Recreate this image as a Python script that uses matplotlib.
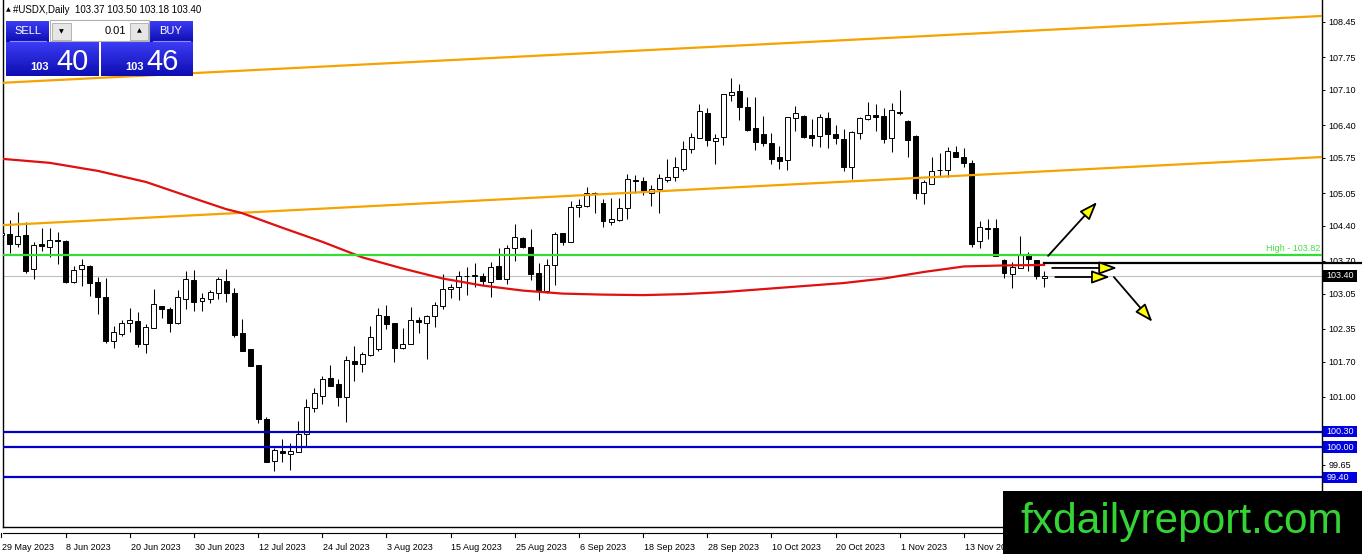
import numpy as np
import matplotlib.pyplot as plt
import matplotlib.transforms as mtransforms
from matplotlib.patches import Rectangle
from matplotlib.colors import LinearSegmentedColormap

plt.rcParams['font.family'] = ['Liberation Sans', 'DejaVu Sans']

# ---- 1. #USDX daily candles, 29 May 2023 onwards ----
opens = [104.22, 104.24, 104.04, 104.22, 103.54, 104.04, 103.98, 104.12, 104.10, 103.28,
         103.54, 103.60, 103.28, 102.98, 102.11, 102.25, 102.47, 102.51, 102.05, 102.37,
         102.80, 102.74, 102.47, 102.94, 103.32, 102.90, 102.94, 103.06, 103.30, 103.06,
         102.27, 101.95, 101.63, 100.56, 99.72, 99.92, 99.86, 99.90, 100.26, 100.78,
         101.01, 101.37, 101.25, 100.99, 101.71, 101.65, 101.83, 101.95, 102.61, 102.47,
         101.97, 102.05, 102.53, 102.47, 102.61, 102.80, 103.14, 103.18, 103.40, 103.40,
         103.40, 103.28, 103.60, 103.34, 103.96, 104.16, 103.98, 103.46, 103.10, 103.62,
         104.25, 104.08, 104.77, 104.79, 105.05, 104.85, 104.47, 104.51, 104.75, 105.31,
         105.29, 105.05, 105.13, 105.31, 105.37, 105.53, 105.92, 106.14, 106.64, 106.08,
         106.16, 107.00, 107.08, 106.76, 106.34, 106.22, 106.04, 105.77, 105.71, 106.54,
         106.58, 106.20, 106.18, 106.54, 106.22, 106.12, 105.57, 106.24, 106.52, 106.60,
         106.58, 106.14, 106.66, 106.48, 106.18, 105.05, 105.23, 105.51, 105.51, 105.87,
         105.77, 105.65, 104.10, 104.35, 104.35, 103.72, 103.44, 103.56, 103.84, 103.72,
         103.37]
highs = [104.35, 104.51, 104.67, 104.47, 104.08, 104.35, 104.35, 104.28, 104.12, 103.60,
         103.74, 103.62, 103.38, 103.36, 102.41, 102.53, 102.76, 102.68, 102.45, 103.14,
         102.80, 102.78, 103.12, 103.50, 103.52, 103.06, 103.12, 103.38, 103.54, 103.16,
         102.55, 101.95, 101.63, 100.60, 99.98, 100.16, 100.08, 100.52, 100.95, 101.17,
         101.41, 101.63, 101.35, 101.81, 102.01, 101.89, 102.41, 102.76, 102.82, 102.47,
         102.37, 102.78, 102.59, 102.63, 102.88, 103.44, 103.24, 103.50, 103.58, 103.66,
         103.46, 103.68, 103.96, 104.02, 104.43, 104.18, 104.33, 103.66, 103.74, 104.28,
         104.25, 104.89, 104.93, 105.17, 105.07, 104.93, 104.95, 104.95, 105.43, 105.41,
         105.37, 105.21, 105.43, 105.73, 105.77, 106.08, 106.24, 106.82, 106.74, 106.22,
         107.02, 107.34, 107.22, 106.96, 106.96, 106.58, 106.24, 105.98, 106.56, 106.78,
         106.60, 106.52, 106.62, 106.66, 106.40, 106.32, 106.28, 106.56, 106.86, 106.82,
         106.74, 106.84, 107.10, 106.50, 106.20, 105.31, 105.77, 105.85, 105.96, 105.98,
         105.94, 105.71, 104.49, 104.53, 104.53, 103.74, 103.68, 104.20, 103.88, 103.72,
         103.50]
lows = [104.12, 103.86, 103.98, 103.46, 103.34, 103.90, 103.78, 103.64, 103.26, 103.26,
        103.20, 103.00, 102.64, 102.07, 101.97, 102.21, 102.29, 101.99, 101.87, 102.37,
        102.57, 102.29, 102.45, 102.74, 102.70, 102.70, 102.86, 102.94, 102.88, 102.19,
        101.91, 101.61, 100.48, 99.70, 99.52, 99.70, 99.54, 99.90, 100.02, 100.70,
        100.85, 101.21, 100.82, 100.50, 101.31, 101.49, 101.81, 101.91, 102.35, 101.69,
        101.95, 102.05, 102.27, 101.75, 102.39, 102.74, 102.96, 102.92, 103.02, 103.18,
        103.22, 102.98, 103.34, 103.24, 103.70, 103.96, 103.32, 102.92, 103.06, 103.22,
        104.02, 104.08, 104.57, 104.77, 104.65, 104.37, 104.41, 104.49, 104.53, 105.05,
        105.01, 104.79, 104.65, 105.27, 105.29, 105.49, 105.85, 106.14, 105.98, 105.63,
        106.00, 106.88, 106.50, 106.28, 105.91, 105.98, 105.63, 105.53, 105.51, 106.28,
        106.14, 105.98, 105.96, 105.94, 106.02, 105.49, 105.33, 106.12, 106.50, 106.28,
        106.04, 105.87, 106.60, 105.77, 104.93, 104.83, 105.23, 105.37, 105.37, 105.77,
        105.57, 103.98, 103.96, 104.14, 103.80, 103.36, 103.16, 103.56, 103.50, 103.34,
        103.18]
closes = [104.25, 104.04, 104.20, 103.50, 104.02, 104.00, 104.12, 104.10, 103.28, 103.52,
          103.62, 103.26, 102.98, 102.11, 102.29, 102.47, 102.53, 102.05, 102.39, 102.84,
          102.74, 102.47, 102.98, 103.34, 102.88, 102.96, 103.08, 103.34, 103.06, 102.23,
          101.91, 101.61, 100.56, 99.70, 99.94, 99.88, 99.92, 100.26, 100.80, 101.07,
          101.35, 101.21, 100.99, 101.73, 101.65, 101.85, 102.19, 102.63, 102.45, 101.97,
          102.05, 102.53, 102.49, 102.61, 102.82, 103.14, 103.18, 103.40, 103.40, 103.41,
          103.30, 103.58, 103.34, 103.96, 104.18, 103.98, 103.44, 103.12, 103.62, 104.24,
          104.08, 104.77, 104.81, 105.05, 105.03, 104.49, 104.53, 104.75, 105.33, 105.29,
          105.09, 105.13, 105.35, 105.37, 105.57, 105.92, 106.16, 106.68, 106.10, 106.14,
          107.02, 107.06, 106.76, 106.30, 106.06, 106.04, 105.73, 105.69, 106.56, 106.64,
          106.16, 106.14, 106.56, 106.22, 106.14, 105.57, 106.26, 106.54, 106.60, 106.56,
          106.12, 106.70, 106.64, 106.10, 105.05, 105.27, 105.49, 105.50, 105.88, 105.77,
          105.65, 104.04, 104.37, 104.34, 103.80, 103.46, 103.58, 103.82, 103.74, 103.40,
          103.40]

date_labels = ["29 May 2023", "8 Jun 2023", "20 Jun 2023", "30 Jun 2023", "12 Jul 2023",
               "24 Jul 2023", "3 Aug 2023", "15 Aug 2023", "25 Aug 2023", "6 Sep 2023",
               "18 Sep 2023", "28 Sep 2023", "10 Oct 2023", "20 Oct 2023", "1 Nov 2023",
               "13 Nov 2023"]
date_pos = list(range(0, 121, 8))

price_ticks = [108.45, 107.75, 107.10, 106.40, 105.75, 105.05, 104.40, 103.70,
               103.05, 102.35, 101.70, 101.00, 100.30, 99.65]

# moving average (red), sampled from the chart
ma_pos = [0, 6, 12, 18, 25, 28, 30, 35, 40, 45, 50, 55, 60, 65, 70, 75, 80, 85,
          90, 95, 100, 105, 110, 115, 120, 125, 130]
ma_val = [105.73, 105.65, 105.49, 105.27, 104.89, 104.73, 104.65, 104.36, 104.08,
          103.77, 103.55, 103.35, 103.21, 103.11, 103.05, 103.03, 103.02, 103.04,
          103.08, 103.14, 103.20, 103.26, 103.35, 103.48, 103.59, 103.61, 103.62]

# channel trendlines, two anchor points each
chan_upper = [(0, 107.24), (130, 108.29)]
chan_lower = [(0, 104.41), (130, 105.48)]

support_levels = [100.30, 100.00, 99.40]
recent_high = 103.82
pivot_level = 103.65
bid = 103.40
ohlc_last = [103.37, 103.50, 103.18, 103.40]
sell_price = ("103", "40")
buy_price = ("103", "46")

# scenario arrows (bar index, price)
arrow_from = [(130.5, 103.80), (131.0, 103.56), (131.4, 103.38), (138.7, 103.38)]
arrow_to = [(136.6, 104.87), (139.1, 103.56), (138.2, 103.38), (143.5, 102.49)]

# ---- 2. Figure / main axes ----
W, H = 1362, 554
fig = plt.figure(figsize=(W / 100, H / 100), dpi=100)
ax = fig.add_axes([2.7 / W, (H - 527) / H, (1322 - 2.7) / W, 527 / H])
ax.set_xlim(0.15, 164.65)
ax.set_ylim(98.41, 108.887)

n = len(opens)
idx = np.arange(n)
o = np.array(opens)
c = np.array(closes)
up = c >= o

ax.axhline(bid, color="#c0c0c0", lw=0.8, zorder=1)
ax.vlines(idx, lows, highs, color="black", lw=0.75, zorder=2)
ax.bar(idx, np.maximum(np.abs(c - o), 0.004), bottom=np.minimum(o, c), width=0.62,
       color=["white" if u else "black" for u in up], edgecolor="black",
       linewidth=0.7, zorder=3)

ax.axline(*chan_upper, color="#f5a300", lw=1.6, zorder=4)
ax.axline(*chan_lower, color="#f5a300", lw=1.6, zorder=4)
ax.plot(ma_pos, ma_val, color="#e01010", lw=1.6, zorder=4)
ax.axhline(recent_high, color="#33dd33", lw=1.6, zorder=4)
for lv in support_levels:
    ax.axhline(lv, color="#0000c8", lw=1.6, zorder=4)

x0, x1 = ax.get_xlim()
ax.axhline(pivot_level, xmin=(n - 1 - x0) / (x1 - x0), xmax=1.031, color="black",
           lw=1.6, clip_on=False, zorder=4)

for (xa, ya), (xb, yb) in zip(arrow_from, arrow_to):
    ax.annotate("", xy=(xb, yb), xytext=(xa, ya), zorder=5,
                arrowprops=dict(arrowstyle="-|>,head_length=1.1,head_width=0.4",
                                fc="#ffff00", ec="black", lw=1.3,
                                shrinkA=0, shrinkB=0, mutation_scale=10))

# right price axis
ax.yaxis.tick_right()
ax.set_yticks(price_ticks)
ax.set_yticklabels([f"{v:.2f}" for v in price_ticks])
ax.tick_params(axis="y", length=2.5, width=0.7, pad=2, labelsize=6.5, colors="black")
ax.set_xticks([])
ax.spines["top"].set_visible(False)
for s in ["left", "right", "bottom"]:
    ax.spines[s].set_linewidth(1.0)

rblend = mtransforms.blended_transform_factory(ax.transAxes, ax.transData)


def price_box(val, fc):
    ax.add_patch(Rectangle((1.0008, val - 0.11), 0.0258, 0.22, transform=rblend,
                           fc=fc, ec="none", clip_on=False, zorder=6))
    ax.text(1.0033, val, f"{val:.2f}", transform=rblend, color="white", fontsize=6.5,
            va="center", ha="left", clip_on=False, zorder=7)


price_box(bid, "black")
for lv in support_levels:
    price_box(lv, "#0000e0")

ax.text(0.9985, recent_high + 0.03, f"High - {recent_high:.2f}", transform=rblend,
        ha="right", va="bottom", color="#44dd44", fontsize=6.5, zorder=6)

# time axis
blend = mtransforms.blended_transform_factory(ax.transData, ax.transAxes)
ax.plot([0, 1.04], [-0.0114, -0.0114], transform=ax.transAxes, color="black",
        lw=0.8, clip_on=False)
for p, lab in zip(date_pos, date_labels):
    ax.plot([p, p], [-0.0114, -0.019], transform=blend, color="black", lw=0.8,
            clip_on=False)
    ax.text(p + 0.1, -0.0398, lab, transform=blend, ha="left", va="center",
            fontsize=6.5, clip_on=False)

# ---- 3. Overlay: trade panel, header, logo (pixel coords) ----
ov = fig.add_axes([0, 0, 1, 1], zorder=10)
ov.set_autoscale_on(False)
ov.set_xlim(0, W)
ov.set_ylim(H, 0)
ov.axis("off")

blue = LinearSegmentedColormap.from_list("mt", ["#3c3cf5", "#0d0db2"])
grad = np.linspace(0, 1, 64).reshape(-1, 1)


def blue_box(bx0, by0, bx1, by1):
    ov.imshow(grad, cmap=blue, extent=(bx0, bx1, by1, by0), aspect="auto",
              origin="upper", zorder=1)


blue_box(6, 21, 49, 42)
blue_box(149, 21, 193, 42)
blue_box(6, 42, 99, 76)
blue_box(101, 42, 193, 76)
ov.plot([10, 46], [41, 41], color="#8c8cff", lw=0.8, zorder=2)
ov.plot([153, 190], [41, 41], color="#8c8cff", lw=0.8, zorder=2)

ov.add_patch(Rectangle((50, 20), 99, 21, fc="white", ec="#b0b0b0", lw=0.8, zorder=2))
ov.add_patch(Rectangle((52, 23), 19, 17, fc="#e6e6e6", ec="#a8a8a8", lw=0.6, zorder=3))
ov.add_patch(Rectangle((130, 23), 18, 17, fc="#e6e6e6", ec="#a8a8a8", lw=0.6, zorder=3))
ov.text(61.5, 31.5, "▼", fontsize=4.5, ha="center", va="center", zorder=4,
        family=["DejaVu Sans"])
ov.text(139, 31, "▲", fontsize=4.5, ha="center", va="center", zorder=4,
        family=["DejaVu Sans"])
ov.text(126, 31, "0.01", fontsize=8, ha="right", va="center", zorder=4)

ov.text(27.5, 31, "SELL", fontsize=8, color="white", ha="center", va="center", zorder=4)
ov.text(171, 31, "BUY", fontsize=8, color="white", ha="center", va="center", zorder=4)
ov.text(49, 70, sell_price[0], fontsize=8, fontweight="bold", color="white",
        ha="right", va="baseline", zorder=4)
ov.text(56, 70, sell_price[1], fontsize=21, color="white", ha="left", va="baseline",
        zorder=4)
ov.text(144, 70, buy_price[0], fontsize=8, fontweight="bold", color="white",
        ha="right", va="baseline", zorder=4)
ov.text(146, 70, buy_price[1], fontsize=21, color="white", ha="left", va="baseline",
        zorder=4)

ov.text(6, 10, "▲", fontsize=4.5, va="center", family=["DejaVu Sans"])
ov.text(13, 10, "#USDX,Daily  " + " ".join(f"{v:.2f}" for v in ohlc_last),
        fontsize=7, va="center")

ov.add_patch(Rectangle((1003, 491), 359, 63, fc="black", ec="none", zorder=5))
ov.text(1181.5, 533, "fxdailyreport.com", fontsize=30.5, color="#35d435",
        ha="center", va="baseline", zorder=6)

fig.savefig("out.png", dpi=100)
print("saved out.png")
